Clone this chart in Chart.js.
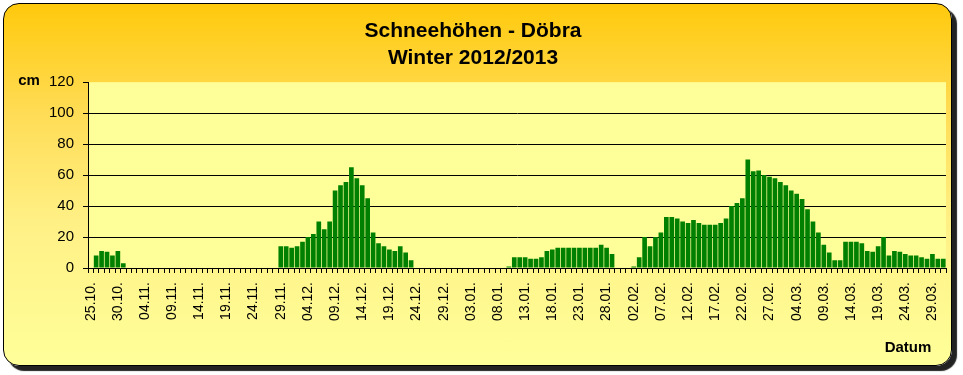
<!DOCTYPE html>
<html>
<head>
<meta charset="utf-8">
<title>Schneehöhen - Döbra</title>
<script src="https://cdn.jsdelivr.net/npm/chart.js@4"></script>
<style>
    html, body { margin: 0; padding: 0; background: #fff; }
    #frame {
        position: absolute; left: 3px; top: 3px; width: 947px; height: 361px;
        border: 1.5px solid #000; border-radius: 16px;
        background: linear-gradient(to bottom, #FFC90C 0%, #FFDC55 30%, #FFF085 60%, #FFFF99 100%);
        box-shadow: 5px 5px 1px #222;
    }
    #chart { position: absolute; left: 0; top: 0; }
</style>
</head>
<body>
<div id="frame"></div>
<canvas id="chart" width="963" height="375"></canvas>
<script>
// Schneehöhen Döbra, Winter 2012/2013 (cm pro Tag)

var startDay = [2012, 9, 25]; // 25.10.2012
var dayCount = 158;           // bis 31.03.2013

var snowCm = [
    0, 8, 11, 10.5, 8, 11, 3,                                   // 25.10. - 31.10.
    0, 0, 0, 0, 0, 0, 0, 0, 0, 0, 0, 0, 0, 0,                   // 01.11. - 14.11.
    0, 0, 0, 0, 0, 0, 0, 0, 0, 0, 0, 0, 0, 0,                   // 15.11. - 28.11.
    14, 14, 13, 14, 17, 20, 22, 30, 25, 30, 50, 53.5, 55.5,     // 29.11. - 11.12.
    65, 58, 53.5, 45, 23, 16, 14, 12, 11, 14, 10, 5,            // 12.12. - 23.12.
    0, 0, 0, 0, 0, 0, 0, 0, 0, 0, 0, 0, 0, 0, 0, 0, 0,          // 24.12. - 09.01.
    1, 7, 7, 7, 6, 6, 7, 11, 12, 13, 13, 13, 13, 13, 13, 13,    // 10.01. - 25.01.
    13, 15, 13, 9,                                              // 26.01. - 29.01.
    0, 0, 0,                                                    // 30.01. - 01.02.
    1, 7, 20, 14, 20, 23, 33, 33, 32, 30, 29, 31, 29, 28, 28,   // 02.02. - 16.02.
    28, 29, 32, 40, 42, 45, 70,                                 // 17.02. - 23.02.
    62.5, 63, 60, 59, 58, 55.5, 53.5, 50, 48, 44.5, 38, 30,     // 24.02. - 07.03.
    23, 15, 10, 5, 5,                                           // 08.03. - 12.03.
    17, 17, 17, 16, 11, 10.5, 14, 20, 8, 11, 10.5, 9, 8, 8,     // 13.03. - 26.03.
    7, 6, 9, 6, 6                                               // 27.03. - 31.03.
];

var yTicks = [0, 20, 40, 60, 80, 100, 120];

var titleLines = ['Schneehöhen - Döbra', 'Winter 2012/2013'];

// Tageslabels dd.mm.
var dayLabels = [];
var d = new Date(startDay[0], startDay[1], startDay[2]);
for (var i = 0; i < dayCount; i++) {
    var dd = ('0' + d.getDate()).slice(-2);
    var mm = ('0' + (d.getMonth() + 1)).slice(-2);
    dayLabels.push(dd + '.' + mm + '.');
    d.setDate(d.getDate() + 1);
}

var fontName = "'Liberation Sans', Arial, sans-serif";

// Plot area background
var plotBg = {
    id: 'plotBg',
    beforeDraw: function (chart) {
        var a = chart.chartArea;
        var ctx = chart.ctx;
        ctx.save();
        ctx.fillStyle = '#FFFF99';
        ctx.fillRect(a.left, a.top, a.right - a.left, a.bottom - a.top);
        ctx.restore();
    }
};

// Axis captions "cm" and "Datum"
var axisText = {
    id: 'axisText',
    afterDraw: function (chart) {
        var ctx = chart.ctx;
        ctx.save();
        ctx.fillStyle = '#000';
        ctx.font = 'bold 15px ' + fontName;
        ctx.textBaseline = 'middle';
        ctx.textAlign = 'center';
        ctx.fillText('cm', 29, 81);
        ctx.fillText('Datum', 908, 348);
        ctx.restore();
    }
};

var config = {
    type: 'bar',
    data: {
        labels: dayLabels,
        datasets: [{
            label: 'Schneehöhe',
            data: snowCm,
            backgroundColor: '#008000',
            borderWidth: 0,
            barPercentage: 0.86,
            categoryPercentage: 1.0
        }]
    },
    options: {
        responsive: false,
        animation: false,
        layout: {
            padding: { left: 0, right: 17, top: 0, bottom: 27 }
        },
        plugins: {
            legend: { display: false },
            tooltip: { enabled: false },
            title: {
                display: true,
                text: titleLines,
                color: '#000',
                font: { family: fontName, size: 21, weight: 'bold', lineHeight: 1.29 },
                padding: { top: 18, bottom: 10 }
            }
        },
        scales: {
            x: {
                afterFit: function (s) {
                    s.height = 80;
                    s.paddingLeft = 0;
                    s.paddingRight = 0;
                },
                border: { display: true, color: '#000', width: 1 },
                grid: {
                    offset: true,
                    drawOnChartArea: false,
                    drawTicks: true,
                    tickLength: 5,
                    tickColor: '#000'
                },
                ticks: {
                    autoSkip: false,
                    minRotation: 90,
                    maxRotation: 90,
                    padding: 9,
                    color: '#000',
                    font: { family: fontName, size: 14 },
                    callback: function (val, idx) {
                        return idx % 5 === 0 ? dayLabels[idx] : '';
                    }
                }
            },
            y: {
                min: 0,
                max: 120,
                afterFit: function (s) { s.width = 88; },
                afterBuildTicks: function (s) {
                    s.ticks = yTicks.map(function (v) { return { value: v }; });
                },
                border: { display: true, color: '#000', width: 1 },
                grid: {
                    color: function (c) {
                        return (c.tick && (c.tick.value === 120 || c.tick.value === 0)) ? 'rgba(0,0,0,0)' : '#000';
                    },
                    lineWidth: 1,
                    tickLength: 5,
                    tickColor: '#000'
                },
                ticks: {
                    padding: 9,
                    color: '#000',
                    font: { family: fontName, size: 15 }
                }
            }
        }
    },
    plugins: [plotBg, axisText]
};

window.onload = function () {
    var ctx = document.getElementById('chart').getContext('2d');
    window.snowChart = new Chart(ctx, config);
};
</script>
</body>
</html>
